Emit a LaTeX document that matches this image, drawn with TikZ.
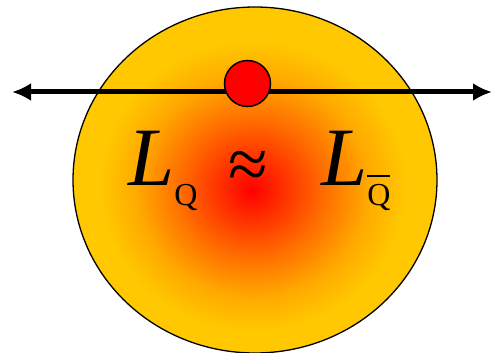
\documentclass[tikz,border=0pt]{standalone}
\usepackage{fontspec}
\setmainfont{Liberation Serif}
\usetikzlibrary{arrows.meta,shapes.geometric}
\definecolor{ballred}{RGB}{255,0,0}
\definecolor{ballorange}{RGB}{255,110,0}
\definecolor{ballamber}{RGB}{255,170,0}
\definecolor{ballgold}{RGB}{255,200,0}
\pgfdeclareradialshading{ballshade}{\pgfpoint{-0.5bp}{-1.5bp}}{color(0bp)=(ballred); color(10bp)=(ballorange); color(16bp)=(ballamber); color(21bp)=(ballgold); color(50bp)=(ballgold)}
\newcommand{\subsize}{\fontsize{32}{34}\selectfont}
\newcommand{\qbar}{{\setbox0\hbox{Q}\rlap{\rule[\dimexpr\ht0+7pt\relax]{\wd0}{1.4pt}}Q}}

\begin{document}
\begin{tikzpicture}[x=1pt, y=-1pt,
  bigtext/.style={font=\fontsize{83}{86}\selectfont, inner sep=0pt, anchor=base west}]
  \useasboundingbox (0,0) rectangle (493,353);
  % ball
  \node[ellipse, draw, line width=1.3pt, minimum width=364pt, minimum height=346pt,
        inner sep=0pt, shading=ballshade] (ball) at (255,180) {};
  % axis through the ball
  \coordinate (west) at (12,92);
  \coordinate (east) at (492,92);
  \draw[line width=5pt, {Latex[length=19pt,width=18pt]}-{Latex[length=19pt,width=18pt]}] (west) -- (east);
  % quark
  \node[circle, draw, fill=red, line width=1.5pt, minimum size=46pt, inner sep=0pt] (quark) at (247.5,83.5) {};
  % labels
  \node[bigtext] (lq) at (128,185) {\textit{L}\raisebox{-20pt}{\subsize Q}};
  \node[bigtext, anchor=base, font=\fontsize{72}{74}\selectfont] (approx) at (248,188) {≈};
  \node[bigtext] (lqbar) at (321,185) {\textit{L}\raisebox{-20pt}{\subsize\qbar}};
\end{tikzpicture}
\end{document}
